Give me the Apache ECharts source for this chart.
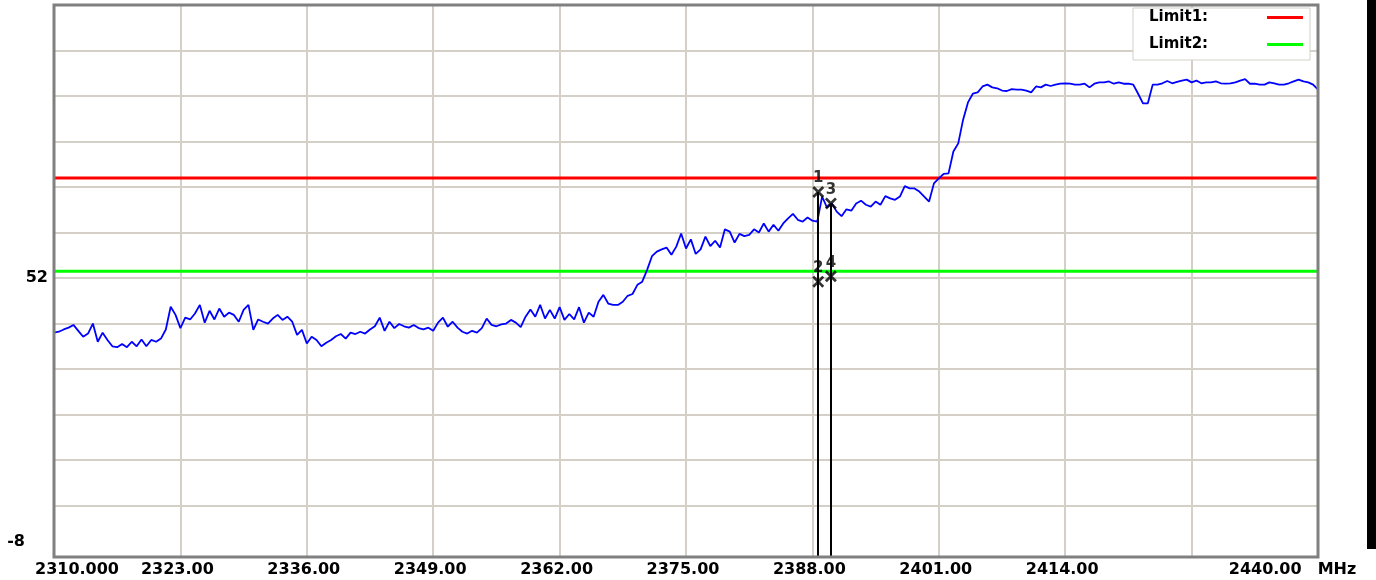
<!DOCTYPE html>
<html>
<head>
<meta charset="utf-8">
<script src="https://cdn.jsdelivr.net/npm/echarts@6/dist/echarts.min.js"></script>
<style>
  html, body { margin: 0; padding: 0; background: #ffffff; }
  #chart { width: 1376px; height: 580px; }
</style>
</head>
<body>
<div id="chart"></div>
<script>
// Sweep: 2310 - 2440 MHz, one reading every 0.5 MHz
const SWEEP_START_MHZ = 2310;
const SWEEP_STEP_MHZ = 0.5;

// Measured trace level per sweep point (dB)
const TRACE_LEVEL = [
  40.0, 40.2, 40.7, 41.1, 41.7, 40.4, 39.1, 39.8, 42.0, 38.0,
  40.0, 38.4, 37.0, 36.8, 37.5, 36.8, 38.0, 37.0, 38.5, 37.0,
  38.4, 38.0, 38.7, 40.7, 45.7, 43.9, 41.0, 43.3, 42.9, 44.2,
  46.1, 42.2, 44.8, 42.9, 45.3, 43.5, 44.4, 43.9, 42.4, 45.0,
  46.1, 40.6, 42.9, 42.4, 42.0, 43.1, 43.9, 42.8, 43.5, 42.4,
  39.5, 40.6, 37.6, 39.1, 38.4, 37.0, 37.8, 38.4, 39.2, 39.7,
  38.7, 40.0, 39.7, 40.2, 39.8, 40.7, 41.4, 43.3, 40.4, 42.4,
  41.0, 41.9, 41.4, 41.1, 41.7, 41.0, 40.7, 41.1, 40.4, 42.2,
  43.3, 41.3, 42.4, 41.1, 40.2, 39.8, 40.4, 40.0, 41.0, 43.1,
  41.7, 41.4, 41.8, 42.0, 42.8, 42.2, 41.2, 43.5, 45.1, 43.5,
  46.1, 43.1, 45.0, 43.1, 45.6, 42.8, 44.1, 42.9, 45.6, 42.2,
  44.4, 43.5, 46.8, 48.3, 46.4, 46.1, 46.1, 46.8, 48.1, 48.5,
  50.5, 51.2, 53.8, 56.8, 57.8, 58.3, 58.7, 57.1, 58.9, 61.8,
  58.5, 60.5, 57.3, 58.3, 61.1, 59.0, 60.2, 58.7, 62.7, 62.2,
  59.8, 61.7, 61.2, 61.5, 62.7, 62.0, 64.0, 62.2, 63.7, 62.4,
  64.0, 65.1, 66.1, 64.8, 64.4, 65.3, 64.6, 64.4, 69.9, 67.5,
  68.4, 66.6, 65.6, 67.1, 66.8, 68.4, 69.0, 68.1, 67.7, 68.8,
  68.1, 70.0, 69.5, 69.2, 69.9, 72.2, 71.7, 71.7, 71.0, 69.9,
  68.8, 72.8, 73.9, 74.9, 75.0, 79.8, 81.6, 86.8, 90.6, 92.5,
  92.8, 94.1, 94.5, 93.9, 93.7, 93.2, 93.1, 93.5, 93.4, 93.4,
  93.2, 92.8, 94.1, 93.9, 94.5, 94.2, 94.5, 94.7, 94.8, 94.7,
  94.5, 94.5, 94.7, 93.9, 94.7, 95.0, 95.0, 95.2, 94.7, 95.0,
  94.7, 94.7, 94.5, 92.5, 90.4, 90.4, 94.5, 94.5, 94.8, 95.3,
  94.8, 95.1, 95.4, 95.6, 95.0, 95.4, 94.8, 95.0, 95.0, 95.2,
  94.8, 94.7, 94.8, 95.0, 95.4, 95.7, 94.7, 94.7, 94.5, 94.5,
  95.0, 94.8, 94.5, 94.5, 94.8, 95.2, 95.6, 95.2, 95.0, 94.5,
  93.4
];

// Limit lines (dB)
const LIMIT_NAMES = ['Limit1', 'Limit2'];
const LIMIT_LEVELS = [74.0, 53.5];
const LIMIT_COLORS = ['#ff0000', '#00ff00'];

// Markers
const MARKER_NAMES = ['1', '2', '3', '4'];
const MARKER_FREQ = [2388.6, 2388.6, 2389.9, 2389.9];
const MARKER_LEVEL = [70.9, 51.2, 68.4, 52.4];

// Frequency axis
const FREQ_MIN = 2310;
const FREQ_MAX = 2440;
const FREQ_STEP = 13;
const FREQ_TICK_LABELS = ['2310.000', '2323.00', '2336.00', '2349.00', '2362.00',
  '2375.00', '2388.00', '2401.00', '2414.00', '', '2440.00'];
const FREQ_UNIT = 'MHz';

// Level axis
const LEVEL_MIN = -9.3;
const LEVEL_MAX = 112;
const LEVEL_GRID = [2, 12, 22, 32, 42, 52, 62, 72, 82, 92, 102];
const LEVEL_LABELS = [52, -8];

const FONT = 'DejaVu Sans';
const boldText = (extra) => Object.assign(
  { fontFamily: FONT, fontWeight: 'bold', fontSize: 16, color: '#000' }, extra || {});

const traceData = TRACE_LEVEL.map((v, i) => [SWEEP_START_MHZ + i * SWEEP_STEP_MHZ, v]);

const limitSeries = LIMIT_NAMES.map((name, k) => ({
  name: name,
  type: 'line',
  color: LIMIT_COLORS[k],
  symbol: 'none',
  lineStyle: { color: LIMIT_COLORS[k], width: 3 },
  data: [[FREQ_MIN, LIMIT_LEVELS[k]], [FREQ_MAX, LIMIT_LEVELS[k]]],
  silent: true,
  z: 2
}));

const markerData = MARKER_NAMES.map((n, k) => ({ name: n, value: [MARKER_FREQ[k], MARKER_LEVEL[k]] }));

// vertical drop lines from the upper marker of each pair to the bottom of the plot
const dropLines = [0, 2].map(k => [
  { coord: [MARKER_FREQ[k], MARKER_LEVEL[k]] },
  { coord: [MARKER_FREQ[k], LEVEL_MIN] }
]);

const chart = echarts.init(document.getElementById('chart'), null, { renderer: 'canvas' });

chart.setOption({
  animation: false,
  backgroundColor: '#ffffff',
  grid: {
    left: 54, right: 58, top: 5, bottom: 23,
    show: true,
    backgroundColor: 'transparent',
    borderColor: '#808080',
    borderWidth: 3,
    z: 6
  },
  legend: {
    data: LIMIT_NAMES,
    orient: 'vertical',
    left: 1133,
    top: 8,
    align: 'right',
    icon: 'rect',
    itemWidth: 36,
    itemHeight: 3,
    itemGap: 12,
    padding: [2, 7, 8, 16],
    backgroundColor: '#ffffff',
    borderColor: '#d4d0c8',
    borderWidth: 1,
    selectedMode: false,
    formatter: name => '{t|' + name + ':}',
    textStyle: boldText({
      fontSize: 15,
      rich: { t: boldText({ fontSize: 15, width: 113, align: 'left' }) }
    })
  },
  xAxis: {
    type: 'value',
    min: FREQ_MIN,
    max: FREQ_MAX,
    interval: FREQ_STEP,
    axisLine: { show: false },
    axisTick: { show: false },
    splitLine: { show: true, lineStyle: { color: '#d4d0c8', width: 2 } },
    axisLabel: boldText({
      show: true,
      showMinLabel: true,
      showMaxLabel: true,
      margin: 5,
      formatter: function (value) {
        const idx = Math.round((value - FREQ_MIN) / FREQ_STEP);
        const txt = FREQ_TICK_LABELS[idx] || '';
        if (!txt) return '';
        if (idx === 0) return '{first|' + txt + '}';
        // the unit sits after the last frequency label
        if (idx === FREQ_TICK_LABELS.length - 1) return '{last|' + txt + '}{unit|' + FREQ_UNIT + '}';
        return '{n|' + txt + '}';
      },
      rich: {
        n: boldText({ padding: [0, 6, 0, 0] }),
        first: boldText({ padding: [0, 0, 0, 46] }),
        last: boldText(),
        unit: boldText({ padding: [0, 51, 0, 16] })
      }
    })
  },
  yAxis: {
    type: 'value',
    min: LEVEL_MIN,
    max: LEVEL_MAX,
    axisLine: { show: false },
    axisTick: { show: false, customValues: LEVEL_GRID },
    splitLine: { show: true, lineStyle: { color: '#d4d0c8', width: 2 } },
    axisLabel: boldText({
      customValues: LEVEL_LABELS,
      margin: 6,
      formatter: function (value) {
        if (value < 0) return '{low|' + value + '}';
        return '{n|' + value + '}';
      },
      rich: {
        n: boldText(),
        low: boldText({ padding: [0, 23, 19, 0] })
      }
    })
  },
  graphic: [
    { type: 'rect', left: 1367, top: 0, shape: { width: 9, height: 549 }, style: { fill: '#000000' }, silent: true }
  ],
  series: limitSeries.concat([
    {
      name: 'Trace',
      type: 'line',
      symbol: 'none',
      color: '#0000ff',
      lineStyle: { color: '#0000ff', width: 1.8 },
      data: traceData,
      silent: true,
      z: 3
    },
    {
      name: 'Markers',
      type: 'scatter',
      symbol: 'path://M0,1.6 L1.6,0 L5,3.4 L8.4,0 L10,1.6 L6.6,5 L10,8.4 L8.4,10 L5,6.6 L1.6,10 L0,8.4 L3.4,5 Z',
      symbolSize: 12,
      itemStyle: { color: '#000000' },
      label: boldText({
        show: true,
        position: 'top',
        distance: 0,
        fontSize: 15,
        formatter: p => p.name
      }),
      markLine: {
        silent: true,
        symbol: ['none', 'none'],
        label: { show: false },
        lineStyle: { color: '#000000', width: 2, type: 'solid' },
        data: dropLines
      },
      data: markerData,
      z: 4
    }
  ])
});
</script>
</body>
</html>
